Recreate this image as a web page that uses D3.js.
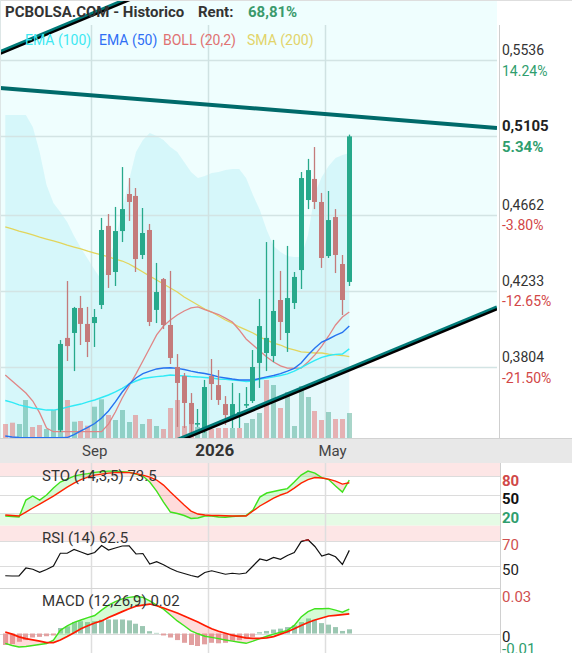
<!DOCTYPE html>
<html>
<head>
<meta charset="utf-8">
<script src="https://cdn.jsdelivr.net/npm/d3@7/dist/d3.min.js"></script>
<style>
html,body{margin:0;padding:0;background:#fff;}
svg{display:block;font-family:Roboto,"Noto Sans","DejaVu Sans",sans-serif;}
</style>
</head>
<body>
<svg id="chart" width="572" height="653"></svg>
<script>
// ================= DATA =================
const barDates = ["2025-06-02","2025-06-09","2025-06-16","2025-06-23","2025-06-30","2025-07-07","2025-07-14","2025-07-21","2025-07-28","2025-08-04",
"2025-08-11","2025-08-18","2025-08-25","2025-09-01","2025-09-08","2025-09-15","2025-09-22","2025-09-29","2025-10-06","2025-10-13",
"2025-10-20","2025-10-27","2025-11-03","2025-11-10","2025-11-17","2025-11-24","2025-12-01","2025-12-08","2025-12-15","2025-12-22",
"2025-12-29","2026-01-05","2026-01-12","2026-01-19","2026-01-26","2026-02-02","2026-02-09","2026-02-16","2026-02-23","2026-03-02",
"2026-03-09","2026-03-16","2026-03-23","2026-03-30","2026-04-06","2026-04-13","2026-04-20","2026-04-27","2026-05-04","2026-05-11","2026-05-18"];

// candles exist from this bar index on
const candleFirstDate = "2025-07-28";
const openP  = [0.3449,0.3968,0.3996,0.4137,0.4047,0.4052,0.4154,0.4600,0.4340,0.4571,0.4780,0.4769,0.4436,0.4577,0.4126,0.4300,0.4041,0.3804,0.3753,0.3601,0.3482,0.3449,0.3753,0.3702,0.3595,0.3522,0.3539,0.3590,0.3612,0.3827,0.3883,0.3866,0.4182,0.3996,0.4165,0.4351,0.4746,0.4865,0.4735,0.4430,0.4650,0.4385,0.4284];
const highP  = [0.3956,0.4289,0.4143,0.4205,0.4143,0.4131,0.4645,0.4667,0.4707,0.4932,0.4870,0.4814,0.4701,0.4611,0.4391,0.4306,0.4346,0.3877,0.3770,0.3657,0.3567,0.3731,0.3849,0.3787,0.3640,0.3714,0.3657,0.3691,0.3900,0.4188,0.4509,0.4521,0.4346,0.4487,0.4340,0.4904,0.4978,0.5045,0.4786,0.4797,0.4695,0.4436,0.5115];
const lowP   = [0.3437,0.3838,0.3781,0.3928,0.3860,0.3917,0.4131,0.4250,0.4261,0.4509,0.4628,0.4340,0.4413,0.4035,0.4052,0.4018,0.3821,0.3466,0.3460,0.3409,0.3466,0.3432,0.3618,0.3590,0.3477,0.3460,0.3460,0.3573,0.3601,0.3686,0.3781,0.3832,0.3956,0.3889,0.4131,0.4244,0.4695,0.4695,0.4363,0.4419,0.4334,0.4097,0.4261];
const closeP = [0.3934,0.3922,0.4137,0.4047,0.3945,0.4086,0.4577,0.4323,0.4571,0.4695,0.4735,0.4413,0.4560,0.4058,0.4227,0.4041,0.3855,0.3714,0.3601,0.3482,0.3488,0.3691,0.3708,0.3618,0.3533,0.3595,0.3550,0.3595,0.3804,0.4035,0.3968,0.4120,0.4058,0.4193,0.4312,0.4870,0.4915,0.4735,0.4419,0.4633,0.4436,0.4182,0.5105];

const volume = [140,153,140,380,110,130,90,280,200,380,163,170,123,313,387,230,180,280,160,230,140,190,120,90,300,380,120,150,110,160,90,100,100,100,100,150,190,250,580,530,300,460,120,520,410,270,180,260,190,190,250];
const volDir = ["d","d","u","u","d","d","u","u","u","d","u","d","d","u","u","d","u","u","u","d","u","d","u","d","d","d","d","d","u","u","d","d","d","u","d","u","u","u","d","u","d","u","u","u","u","d","d","u","d","d","u"];

const sma200 = [0.4594,0.4583,0.4571,0.4560,0.4549,0.4537,0.4526,0.4515,0.4504,0.4492,0.4481,0.4470,0.4458,0.4447,0.4436,0.4425,0.4413,0.4402,0.4385,0.4363,0.4340,0.4317,0.4295,0.4272,0.4250,0.4227,0.4199,0.4176,0.4154,0.4131,0.4114,0.4092,0.4069,0.4052,0.4030,0.4013,0.3996,0.3973,0.3956,0.3939,0.3928,0.3911,0.3900,0.3889,0.3886,0.3883,0.3883,0.3877,0.3872,0.3869,0.3863];
const ema100 = [0.3615,0.3604,0.3590,0.3581,0.3573,0.3567,0.3561,0.3561,0.3567,0.3578,0.3587,0.3595,0.3607,0.3618,0.3632,0.3646,0.3663,0.3683,0.3708,0.3725,0.3739,0.3745,0.3750,0.3753,0.3759,0.3756,0.3753,0.3750,0.3748,0.3745,0.3742,0.3736,0.3734,0.3731,0.3728,0.3722,0.3725,0.3736,0.3742,0.3748,0.3756,0.3765,0.3781,0.3801,0.3821,0.3841,0.3858,0.3869,0.3875,0.3877,0.3906];
const ema50  = [0.3415,0.3409,0.3406,0.3405,0.3405,0.3405,0.3405,0.3405,0.3405,0.3406,0.3423,0.3443,0.3463,0.3485,0.3516,0.3556,0.3607,0.3663,0.3708,0.3742,0.3767,0.3781,0.3793,0.3798,0.3800,0.3796,0.3790,0.3781,0.3773,0.3767,0.3759,0.3748,0.3742,0.3736,0.3731,0.3731,0.3731,0.3739,0.3748,0.3756,0.3767,0.3781,0.3796,0.3827,0.3872,0.3911,0.3945,0.3962,0.3982,0.3999,0.4035];
const bollLower = [0.3759,0.3725,0.3691,0.3657,0.3612,0.3545,0.3460,0.3439,0.3439,0.3439,0.3439,0.3439,0.3439,0.3439,0.3439,0.3482,0.3550,0.3629,0.3697,0.3765,0.3838,0.3911,0.3985,0.4035,0.4069,0.4097,0.4120,0.4137,0.4143,0.4128,0.4114,0.4100,0.4080,0.4058,0.4013,0.3962,0.3928,0.3894,0.3860,0.3832,0.3810,0.3798,0.3798,0.3798,0.3832,0.3872,0.3922,0.3979,0.4041,0.4086,0.4114];
const bollUpper = [0.5226,0.5226,0.5226,0.5226,0.5158,0.5017,0.4831,0.4729,0.4679,0.4622,0.4543,0.4475,0.4413,0.4351,0.4295,0.4396,0.4521,0.4690,0.4859,0.5017,0.5085,0.5124,0.5107,0.5085,0.5045,0.5017,0.4961,0.4904,0.4870,0.4882,0.4899,0.4904,0.4915,0.4921,0.4921,0.4870,0.4774,0.4690,0.4577,0.4487,0.4453,0.4430,0.4425,0.4425,0.4549,0.4786,0.4876,0.4938,0.4983,0.5000,0.5011];

const stoK = [15.6,14.8,14.0,41.3,47.9,41.3,49.4,60.6,70.3,75.1,79.9,82.3,83.9,85.9,87.1,87.9,87.9,87.1,86.3,83.1,79.9,70.3,55.8,38.1,22.0,19.6,16.4,11.6,12.4,15.6,15.6,14.0,13.5,14.8,15.6,16.4,25.2,46.1,52.6,55.0,57.4,59.8,70.3,81.5,87.9,84.7,77.5,74.3,63.8,54.2,73.5];
const stoD = [17.2,16.4,15.6,22.0,28.5,34.9,41.3,47.7,55.0,62.2,68.6,74.3,78.3,81.5,83.1,84.7,85.5,85.9,85.5,83.9,81.5,78.3,73.5,65.4,54.2,43.7,33.3,23.6,18.8,17.2,16.4,16.4,16.1,15.6,15.6,15.6,23.6,31.7,38.1,44.5,49.4,53.4,60.6,68.6,74.3,77.5,76.7,75.1,71.9,67.0,69.1];
const rsi = [42.2,42.0,42.0,48.4,47.4,45.0,47.2,50.0,60.2,60.2,63.2,61.2,59.2,60.8,66.4,62.8,64.4,66.0,66.2,59.6,60.0,51.6,53.4,51.0,48.0,45.6,44.0,42.4,41.2,44.8,46.2,44.8,43.4,44.2,43.6,44.4,50.0,55.6,54.4,56.8,55.4,58.4,60.8,69.5,71.0,65.6,58.0,59.6,57.4,51.2,62.5];
const macd = [-0.0076,-0.0093,-0.0105,-0.0101,-0.0093,-0.0085,-0.0078,-0.0051,0.0025,0.0060,0.0086,0.0105,0.0124,0.0140,0.0182,0.0220,0.0247,0.0269,0.0281,0.0287,0.0281,0.0254,0.0220,0.0189,0.0144,0.0098,0.0060,0.0021,-0.0002,-0.0021,-0.0030,-0.0040,-0.0050,-0.0059,-0.0068,-0.0076,-0.0059,-0.0040,-0.0021,-0.0005,0.0010,0.0024,0.0063,0.0128,0.0170,0.0193,0.0193,0.0195,0.0182,0.0166,0.0189];
const macdSignal = [0.0012,-0.0005,-0.0026,-0.0040,-0.0049,-0.0059,-0.0070,-0.0070,-0.0051,-0.0024,0.0006,0.0037,0.0060,0.0082,0.0098,0.0124,0.0147,0.0170,0.0193,0.0212,0.0221,0.0229,0.0216,0.0198,0.0179,0.0159,0.0136,0.0113,0.0090,0.0063,0.0037,0.0018,0.0002,-0.0013,-0.0024,-0.0034,-0.0038,-0.0037,-0.0034,-0.0024,-0.0005,0.0014,0.0037,0.0063,0.0086,0.0105,0.0121,0.0136,0.0141,0.0147,0.0153];
const macdHist = [-0.0089,-0.0082,-0.0064,-0.0051,-0.0031,-0.0026,-0.0021,-0.0015,0.0043,0.0056,0.0089,0.0096,0.0089,0.0096,0.0107,0.0109,0.0109,0.0109,0.0102,0.0076,0.0058,0.0018,0.0005,-0.0015,-0.0031,-0.0051,-0.0072,-0.0089,-0.0097,-0.0084,-0.0072,-0.0076,-0.0072,-0.0056,-0.0051,-0.0041,-0.0026,0.0010,0.0020,0.0031,0.0038,0.0050,0.0063,0.0089,0.0117,0.0107,0.0081,0.0069,0.0050,0.0020,0.0033];

const priceTicks = [0.5536,0.5105,0.4662,0.4233,0.3804];
const priceTickLabels = ["0,5536","0,5105","0,4662","0,4233","0,3804"];
const priceTickPct = ["14.24%","5.34%","-3.80%","-12.65%","-21.50%"];
const currentPrice = 0.5105;
const monthTicks = [{date:"2025-09-01",label:"Sep",bold:false},{date:"2026-01-01",label:"2026",bold:true},{date:"2026-05-01",label:"May",bold:false}];
const trendResistance = [{date:"2025-06-02",price:0.5376},{date:"2026-05-18",price:0.5220}];
const channelLower = [{date:"2026-01-26",price:0.3532},{date:"2026-05-18",price:0.3790}];
const channelUpper = [{date:"2025-06-02",price:0.5588},{date:"2026-05-18",price:0.6396}];
const legendItems = [{label:"EMA (100)",color:"#3ee8f2"},{label:"EMA (50)",color:"#2f6ff5"},{label:"BOLL (20,2)",color:"#e07272"},{label:"SMA (200)",color:"#e2d46a"}];
const headerTitle = "PCBOLSA.COM - Historico";
const headerRentLabel = "Rent:";
const headerRentValue = "68,81%";
const stoTitle = "STO (14,3,5) 73.5", rsiTitle = "RSI (14) 62.5", macdTitle = "MACD (12,26,9) 0.02";
const stoLevels = [80,50,20], rsiLevels = [70,50], macdLevels = [0.03,0,-0.01];

// ================= SETUP =================
const svg = d3.select("#chart");
const defs = svg.append("defs");
const parse = d3.utcParse("%Y-%m-%d");
const dates = barDates.map(parse);
const WEEK = 7*864e5;
function fracIndex(ds){ const d=parse(ds); const k=d3.bisectRight(dates,d)-1; return k+(d-dates[k])/WEEK; }
function barIndex(ds){ const d=parse(ds); return d3.bisectRight(dates,d)-1; }
const first = barIndex(candleFirstDate);
const candles = openP.map((o,j)=>({i:first+j,o:o,h:highP[j],l:lowP[j],c:closeP[j]}));

const PL=0, PR=497, PT=0, PB=438;
const x = d3.scaleLinear().domain([0,dates.length-1]).range([5.26,349.3]);
const y = d3.scaleLinear().domain([0.3804,0.5536]).range([367,60]);
const yVol = d3.scaleLinear().domain([0,600]).range([PB,378]);
const idx = d3.range(dates.length);

const GREEN="#27a98b", RED="#c47b7b";

svg.append("rect").attr("width",572).attr("height",653).attr("fill","#fff");

defs.append("clipPath").attr("id","clipMain").append("rect").attr("x",PL).attr("y",PT).attr("width",PR-PL).attr("height",PB-PT);
const main = svg.append("g").attr("clip-path","url(#clipMain)");

function linePts(anchors){
  const a={x:x(fracIndex(anchors[0].date)),y:y(anchors[0].price)};
  const b={x:x(fracIndex(anchors[1].date)),y:y(anchors[1].price)};
  const m=(b.y-a.y)/(b.x-a.x);
  return [[PL,a.y+m*(PL-a.x)],[PR,a.y+m*(PR-a.x)]];
}
const up = linePts(channelUpper), lo = linePts(channelLower), rs = linePts(trendResistance);

// channel background
main.append("path").attr("d",d3.line()([up[0],up[1],lo[1],lo[0]])+"Z").attr("fill","#effefe");

// Bollinger fill (upper band down to bottom)
main.append("path").datum(idx)
  .attr("d",d3.area().x(i=>x(i)).y0(PB).y1(i=>y(bollUpper[i])))
  .attr("fill","rgba(0,185,215,0.1)");

// gridlines
main.selectAll(".hg").data(priceTicks).join("line")
  .attr("x1",PL).attr("x2",PR).attr("y1",d=>Math.round(y(d))+0.5).attr("y2",d=>Math.round(y(d))+0.5)
  .attr("stroke","#d3e4e4").attr("stroke-width",1.5);
const monthX = monthTicks.map(t=>({...t,grid:Math.round(x(barIndex(t.date)-0.5))+0.5,lab:x(fracIndex(t.date))}));
main.selectAll(".vg").data(monthX).join("line")
  .attr("x1",d=>d.grid).attr("x2",d=>d.grid).attr("y1",25).attr("y2",PB)
  .attr("stroke","#cfe2e2").attr("stroke-width",1.5);

// volume
main.selectAll(".vol").data(idx).join("rect")
  .attr("x",i=>Math.round(x(i)-2.5)).attr("width",5)
  .attr("y",i=>yVol(volume[i])).attr("height",i=>PB-yVol(volume[i]))
  .attr("fill",i=>volDir[i]==="u"?"rgba(40,150,120,0.40)":"rgba(230,100,100,0.48)");

// moving averages
function drawLine(g,arr,col,w){
  g.append("path").datum(idx).attr("d",d3.line().x(i=>x(i)).y(i=>y(arr[i]))).attr("fill","none").attr("stroke",col).attr("stroke-width",w);
}
drawLine(main,sma200,"#e2d55c",1.3);
drawLine(main,bollLower,"#e08686",1.3);
drawLine(main,ema100,"#30eaf6",1.4);
drawLine(main,ema50,"#2673f0",1.4);

// candles
const cg = main.selectAll(".cd").data(candles).join("g");
cg.append("line")
  .attr("x1",d=>Math.round(x(d.i)-2.5)+2.5).attr("x2",d=>Math.round(x(d.i)-2.5)+2.5)
  .attr("y1",d=>y(d.h)).attr("y2",d=>y(d.l))
  .attr("stroke",d=>d.c>=d.o?GREEN:RED).attr("stroke-width",1.3);
cg.append("rect")
  .attr("x",d=>Math.round(x(d.i)-2.5)).attr("width",5)
  .attr("y",d=>y(Math.max(d.o,d.c)))
  .attr("height",d=>Math.max(1.6,y(Math.min(d.o,d.c))-y(Math.max(d.o,d.c))))
  .attr("fill",d=>d.c>=d.o?GREEN:RED);

// trend lines
main.append("path").attr("d",d3.line()(rs)).attr("stroke","#006a6a").attr("stroke-width",4).attr("fill","none");
[up,lo].forEach(L=>{
  main.append("path").attr("d",d3.line()(L.map(p=>[p[0],p[1]-0.9]))).attr("stroke","#007a78").attr("stroke-width",4).attr("fill","none");
  main.append("path").attr("d",d3.line()(L.map(p=>[p[0],p[1]+1]))).attr("stroke","#000").attr("stroke-width",2.4).attr("fill","none");
});

// frame lines
svg.append("line").attr("x1",0).attr("x2",572).attr("y1",0.5).attr("y2",0.5).attr("stroke","#dedede");
svg.append("line").attr("x1",0.5).attr("x2",0.5).attr("y1",0).attr("y2",PB).attr("stroke","#dde6e6");
svg.append("line").attr("x1",499.5).attr("x2",499.5).attr("y1",25).attr("y2",PB).attr("stroke","#cfcfcf");

// header
svg.append("text").attr("x",5).attr("y",17).attr("font-size",15).attr("font-weight",700).attr("fill","#333").text(headerTitle);
svg.append("text").attr("x",198).attr("y",17).attr("font-size",15).attr("font-weight",700).attr("fill","#333").text(headerRentLabel);
svg.append("text").attr("x",248).attr("y",17).attr("font-size",15).attr("font-weight",700).attr("fill","#3a9a6c").text(headerRentValue);
const legX=[25,99,163,247];
legendItems.forEach((l,k)=>svg.append("text").attr("x",legX[k]).attr("y",44.5).attr("font-size",14).attr("fill",l.color).text(l.label));

// right price axis
priceTicks.forEach((t,k)=>{
  const yy=y(t); const cur = t===currentPrice;
  svg.append("text").attr("x",502).attr("y",yy-5).attr("font-size",cur?15:14).attr("font-weight",cur?700:400).attr("fill",cur?"#222":"#333").text(priceTickLabels[k]);
  svg.append("text").attr("x",502).attr("y",yy+15.5).attr("font-size",cur?15:14).attr("font-weight",cur?700:400)
     .attr("fill",priceTickPct[k].startsWith("-")?"#d24646":"#2f9e6e").text(priceTickPct[k]);
});

// x axis band
svg.append("rect").attr("x",0).attr("y",439).attr("width",572).attr("height",24).attr("fill","#e8e8e8");
svg.append("line").attr("x1",0).attr("x2",572).attr("y1",438.5).attr("y2",438.5).attr("stroke","#d2d2d2");
svg.selectAll(".ml").data(monthX).join("text")
  .attr("x",d=>d.lab).attr("y",456).attr("text-anchor","middle")
  .attr("font-size",d=>d.bold?17:15).attr("font-weight",d=>d.bold?700:400).attr("fill",d=>d.bold?"#333":"#444").text(d=>d.label);

// ================= LOWER PANELS =================
const LR = 500;
defs.append("clipPath").attr("id","clipLow").append("rect").attr("x",0).attr("y",463).attr("width",LR).attr("height",190);
const low = svg.append("g").attr("clip-path","url(#clipLow)");

const ySto = d3.scaleLinear().domain([0,100]).range([525.7,463.6]);
const yRsi = d3.scaleLinear().domain([50,70]).range([566,541]);
const yMacd = d3.scaleLinear().domain([-0.01,0.03]).range([646.4,594.9]);

// bands
low.append("rect").attr("x",0).attr("width",LR).attr("y",463).attr("height",ySto(80)-463).attr("fill","#fde6e6");
low.append("rect").attr("x",0).attr("width",LR).attr("y",ySto(20)).attr("height",ySto(0)-ySto(20)).attr("fill","#e5fbe5");
low.append("rect").attr("x",0).attr("width",LR).attr("y",ySto(0)).attr("height",yRsi(70)-ySto(0)).attr("fill","#fde6e6");
// gridlines
const hl=(yy)=>low.append("line").attr("x1",0).attr("x2",LR).attr("y1",Math.round(yy)+0.5).attr("y2",Math.round(yy)+0.5).attr("stroke","#dcdcdc").attr("stroke-width",1.2);
stoLevels.forEach(v=>hl(ySto(v)));
rsiLevels.forEach(v=>hl(yRsi(v)));
hl(yMacd(0));
low.selectAll(".lvg").data(monthX).join("line").attr("x1",d=>d.grid).attr("x2",d=>d.grid).attr("y1",463).attr("y2",653).attr("stroke","#dedede").attr("stroke-width",1.5);
svg.append("line").attr("x1",0).attr("x2",LR).attr("y1",588.5).attr("y2",588.5).attr("stroke","#d4d4d4").attr("stroke-width",1.2);
svg.append("line").attr("x1",LR+0.5).attr("x2",LR+0.5).attr("y1",463).attr("y2",653).attr("stroke","#d0d0d0");

function fillBetween(g,a,b,ys,top,bot,cUp,cDn,id){
  const ar = d3.area().x(i=>x(i)).y0(i=>ys(b[i])).y1(i=>ys(a[i]));
  defs.append("clipPath").attr("id",id+"u").append("path").datum(idx).attr("d",d3.area().x(i=>x(i)).y0(top).y1(i=>ys(b[i])));
  defs.append("clipPath").attr("id",id+"d").append("path").datum(idx).attr("d",d3.area().x(i=>x(i)).y0(i=>ys(b[i])).y1(bot));
  g.append("path").datum(idx).attr("d",ar).attr("fill",cUp).attr("clip-path",`url(#${id}u)`);
  g.append("path").datum(idx).attr("d",ar).attr("fill",cDn).attr("clip-path",`url(#${id}d)`);
}
function lowLine(g,arr,ys,col,w){
  return g.append("path").datum(idx).attr("d",d3.line().x(i=>x(i)).y(i=>ys(arr[i]))).attr("fill","none").attr("stroke",col).attr("stroke-width",w);
}
// STO
fillBetween(low,stoK,stoD,ySto,440,560,"rgba(90,240,90,0.25)","rgba(255,110,110,0.25)","sto");
lowLine(low,stoK,ySto,"#3fe21c",1.4);
lowLine(low,stoD,ySto,"#ff2200",1.4);

// RSI
lowLine(low,rsi,yRsi,"#111",1.2);
defs.append("clipPath").attr("id","rsiHi").append("rect").attr("x",0).attr("y",500).attr("width",LR).attr("height",yRsi(70)-500);
lowLine(low,rsi,yRsi,"#b01818",1.3).attr("clip-path","url(#rsiHi)");

// MACD
low.selectAll(".hist").data(idx).join("rect")
  .attr("x",i=>Math.round(x(i)-2.5)).attr("width",5)
  .attr("y",i=>Math.min(yMacd(0),yMacd(macdHist[i])))
  .attr("height",i=>Math.abs(yMacd(macdHist[i])-yMacd(0)))
  .attr("fill",i=>macdHist[i]>=0?"#9cc7b2":"#e2a0a0");
fillBetween(low,macd,macdSignal,yMacd,560,700,"rgba(90,240,90,0.25)","rgba(255,110,110,0.25)","mac");
lowLine(low,macd,yMacd,"#3fe21c",1.4);
lowLine(low,macdSignal,yMacd,"#ff1a00",1.7);

// titles
[[stoTitle,480.5],[rsiTitle,542.5],[macdTitle,606]].forEach(t=>
  svg.append("text").attr("x",42).attr("y",t[1]).attr("font-size",15).attr("fill","#333").text(t[0]));

// right labels lower panels
const lab=(txt,yy,col,bold)=>svg.append("text").attr("x",502).attr("y",yy).attr("font-size",15).attr("font-weight",bold?700:400).attr("fill",col).text(txt);
lab("80",ySto(80)+9.5,"#d04848",true);
lab("50",ySto(50)+9.5,"#111",true);
lab("20",ySto(20)+9.5,"#2f9e6e",true);
lab("70",yRsi(70)+8.5,"#d05050",false);
lab("50",yRsi(50)+8.5,"#222",false);
lab("0.03",yMacd(0.03)+7,"#d05050",false);
lab("0",yMacd(0)+8,"#222",false);
lab("-0.01",yMacd(-0.01)+8,"#2f9e6e",false);
</script>
</body>
</html>
